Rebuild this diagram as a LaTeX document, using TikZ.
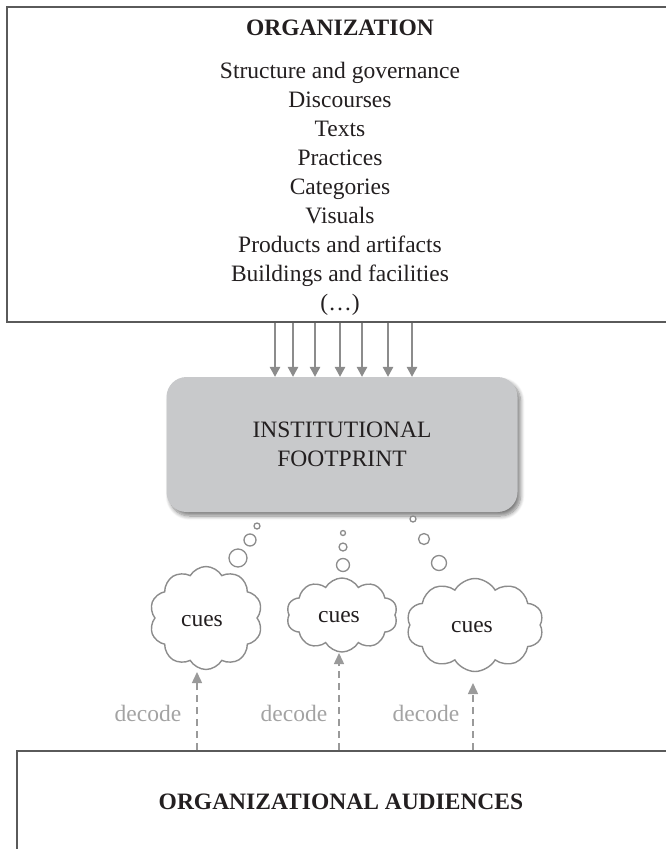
\documentclass[tikz,border=0pt]{standalone}
\usepackage{fontspec}
\setmainfont{Liberation Serif}
\usetikzlibrary{shapes.symbols,shadows.blur,arrows.meta}
\definecolor{frame}{HTML}{5A5A5A}
\definecolor{fpfill}{HTML}{C8C9CB}
\definecolor{linkgray}{HTML}{8C8C8C}
\definecolor{dashgray}{HTML}{9A9A9A}
\definecolor{decodegray}{HTML}{A3A3A3}
\definecolor{ink}{HTML}{231F20}

\begin{document}
\begin{tikzpicture}[x=1pt,y=-1pt,
  txt/.style={font=\fontsize{23.5}{29}\selectfont, text=ink},
  boldtxt/.style={font=\fontsize{23.5}{29}\selectfont\bfseries, text=ink},
  panel/.style={draw=frame, line width=1.8pt, fill=white, anchor=north west, inner sep=0pt},
  footprint/.style={fill=fpfill, rounded corners=20pt, minimum width=351pt, minimum height=135pt,
    blur shadow={shadow xshift=3pt, shadow yshift=-4pt, shadow blur steps=8,
      shadow blur radius=4pt, shadow opacity=50},
    txt, align=center},
  feed/.style={draw=linkgray, line width=1.5pt, -{Triangle[width=10.5pt,length=10pt]}},
  thought/.style={cloud, draw=linkgray, line width=1.4pt, fill=white, cloud puffs=10,
    cloud puff arc=120, inner sep=0pt},
  bubble/.style={circle, draw=linkgray, line width=1.3pt, fill=white, inner sep=0pt},
  decodearrow/.style={draw=dashgray, line width=1.5pt, dash pattern=on 7pt off 5pt,
    -{Triangle[width=10pt,length=11pt]}},
  decodelabel/.style={font=\fontsize{23.5}{29}\selectfont, text=decodegray, anchor=base}
]
\useasboundingbox (0,0) rectangle (666,849);

% organization panel with its list of elements
\node[panel, minimum width=700pt, minimum height=315pt] (org) at (6,6) {};
\node[boldtxt, anchor=base] (orgtitle) at (340,35) {ORGANIZATION};
\foreach \item [count=\i from 0] in {Structure and governance, Discourses, Texts,
    Practices, Categories, Visuals, Products and artifacts, Buildings and facilities, (\dots)}
  \node[txt, anchor=base] (orgitem\i) at (340,78+29*\i) {\item};

% institutional footprint
\node[footprint] (fp) at (342,444.5) {INSTITUTIONAL\\FOOTPRINT};

% elements feeding into the footprint
\foreach \x [count=\k] in {275,293,315,340,362,388,412} {
  \coordinate (feedx\k) at (\x,0);
  \draw[feed] (org.south -| feedx\k) -- (fp.north -| feedx\k);
}

% thought bubbles rising from the footprint
\node[bubble, minimum size=6pt]  (b1a) at (257,526) {};
\node[bubble, minimum size=12pt] (b1b) at (250,540) {};
\node[bubble, minimum size=18pt] (b1c) at (238,558) {};
\node[bubble, minimum size=5pt]  (b2a) at (343,533) {};
\node[bubble, minimum size=8pt]  (b2b) at (343,547) {};
\node[bubble, minimum size=13pt] (b2c) at (343,565) {};
\node[bubble, minimum size=6pt]  (b3a) at (413,519) {};
\node[bubble, minimum size=11pt] (b3b) at (424,539) {};
\node[bubble, minimum size=15pt] (b3c) at (439,563) {};

% cue clouds
\node[thought, minimum width=113pt, minimum height=103pt] (cue1) at (206,618) {};
\node[thought, minimum width=111pt, minimum height=74pt]  (cue2) at (342,615) {};
\node[thought, minimum width=137pt, minimum height=93pt]  (cue3) at (475,625) {};
\node[txt, anchor=base] (cuetxt1) at (202,626) {cues};
\node[txt, anchor=base] (cuetxt2) at (339,622) {cues};
\node[txt, anchor=base] (cuetxt3) at (472,632) {cues};

% organizational audiences panel
\node[panel, minimum width=700pt, minimum height=150pt] (aud) at (16,750) {};
\node[boldtxt, anchor=base] (audtitle) at (341,809) {ORGANIZATIONAL AUDIENCES};

% decoding arrows
\coordinate (tip1) at (197,672);
\coordinate (tip2) at (339,653);
\coordinate (tip3) at (473,683);
\foreach \k in {1,2,3}
  \draw[decodearrow] (aud.north -| tip\k) -- (tip\k);
\node[decodelabel] (dec1) at (148,721) {decode};
\node[decodelabel] (dec2) at (294,721) {decode};
\node[decodelabel] (dec3) at (426,721) {decode};
\end{tikzpicture}
\end{document}
